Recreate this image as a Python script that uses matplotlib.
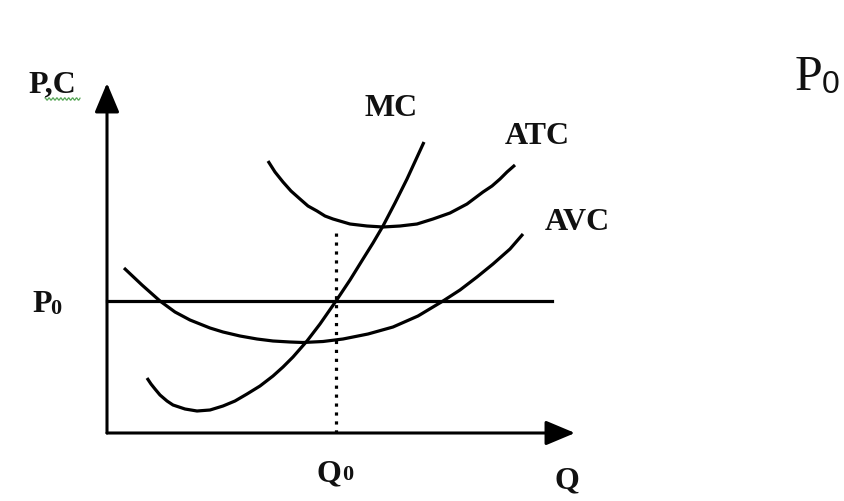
import numpy as np
import matplotlib
matplotlib.use('Agg')
import matplotlib.pyplot as plt

plt.rcParams['font.family'] = ['Liberation Serif', 'DejaVu Serif']

# curves (quantity, cost), origin where the axes meet
mc_q = [40, 44, 48, 53, 60, 66, 78, 90, 103, 116, 128, 140, 153, 166, 176, 186,
        200, 213, 229, 243, 256, 266, 276, 288, 300, 317]
mc_c = [55, 49, 44, 38, 32, 28, 24, 22, 23, 27, 32, 39, 47, 57, 66, 76,
        92, 109, 132, 153, 174, 190, 207, 230, 254, 291]

atc_q = [161, 168, 176, 184, 193, 201, 210, 218, 226, 243, 260, 276, 293, 310,
         326, 343, 360, 376, 385, 393, 400, 408]
atc_c = [272, 261, 251, 242, 234, 227, 222, 217, 214, 209, 207, 206, 207, 209,
         214, 220, 229, 241, 247, 254, 261, 268]

avc_q = [17, 35, 53, 68, 83, 103, 116, 133, 150, 166, 183, 196, 216, 236, 261,
         286, 311, 336, 353, 370, 386, 403, 416]
avc_c = [165, 148, 132, 121, 113, 105, 101, 97, 94, 92, 91, 90.5, 91.5, 94, 99,
         106, 117, 132, 143, 156, 169, 184, 199]

p0 = 132
q0 = 229
atc_at_q0 = 204
p0_end = 445
q_axis_end = 468
c_axis_end = 350

ink = '#111111'

fig = plt.figure(figsize=(8.44, 5.02), dpi=100)
ax = fig.add_axes([0, 0, 1, 1])
ax.set_xlim(-107, 737)
ax.set_ylim(-68, 434)
ax.axis('off')

# axes with arrows
arrow = dict(arrowstyle='-|>,head_length=1.0,head_width=0.42', mutation_scale=18,
             lw=2.2, color='black', shrinkA=0, shrinkB=0)
ax.annotate('', xy=(0, c_axis_end), xytext=(0, 0), arrowprops=arrow)
ax.annotate('', xy=(q_axis_end, 0), xytext=(0, 0), arrowprops=arrow)

# price line and dotted Q0 line
ax.plot([0, p0_end], [p0, p0], color='black', lw=2.3)
ax.plot([q0, q0], [0, atc_at_q0], color='black', lw=2.3,
        linestyle=(0, (1, 1.8)), dash_capstyle='butt')

# cost curves
for q, c in [(mc_q, mc_c), (atc_q, atc_c), (avc_q, avc_c)]:
    ax.plot(q, c, color='black', lw=2.3, solid_capstyle='butt', solid_joinstyle='round')

# labels
lab = dict(fontsize=23, fontweight='bold', color=ink)
sub = dict(fontsize=16, fontweight='bold', color=ink, va='baseline', ha='left')
ax.text(-55, 349, 'P,C', ha='center', va='center', **lab)
ax.text(284, 325, 'MC', ha='center', va='center', **lab)
ax.text(430, 297, 'ATC', ha='center', va='center', **lab)
ax.text(470, 212, 'AVC', ha='center', va='center', **lab)
ax.text(-75, 122, 'P', ha='left', va='baseline', **lab)
ax.text(-57, 120, '0', **sub)
ax.text(210, -47, 'Q', ha='left', va='baseline', **lab)
ax.text(235, -46, '0', **sub)
ax.text(448, -54, 'Q', ha='left', va='baseline', **lab)
ax.text(688, 344, 'P', ha='left', va='baseline', fontsize=36, color=ink)
ax.text(715, 341, '0', ha='left', va='baseline', fontsize=23, color=ink,
        family='Liberation Sans')

# spell-check squiggle under "P,C"
sq = np.linspace(-62, -27, 60)
ax.plot(sq, 334 + 1.2 * np.sin(sq * 1.6), color='#5aa85a', lw=0.9)

fig.savefig('out.png', dpi=100)
